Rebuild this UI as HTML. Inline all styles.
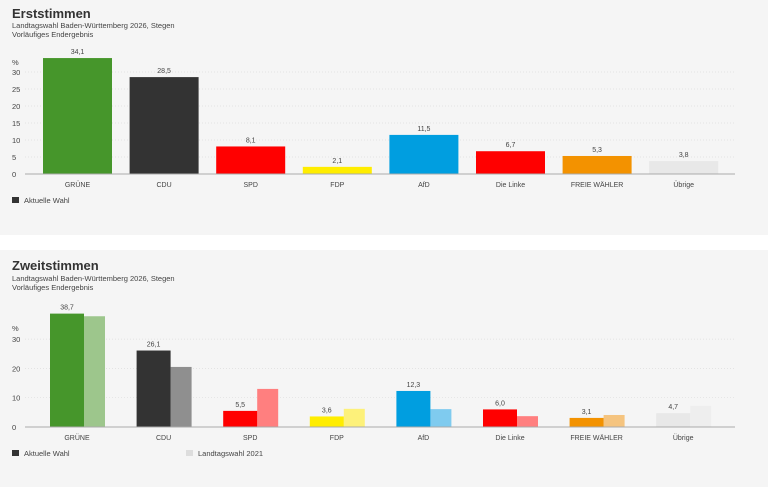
<!DOCTYPE html>
<html><head><meta charset="utf-8"><style>
body{margin:0;width:768px;height:487px;background:#fff;font-family:"Liberation Sans",sans-serif;overflow:hidden}
svg{display:block}
</style></head><body>
<svg width="768" height="487">
<rect x="0" y="0" width="768" height="235" fill="#f5f5f5"/>
<rect x="0" y="250" width="768" height="237" fill="#f5f5f5"/>
<text x="12" y="18" font-size="13" font-weight="bold" fill="#333">Erststimmen</text>
<text x="12" y="28" font-size="7.5" fill="#444">Landtagswahl Baden-Württemberg 2026, Stegen</text>
<text x="12" y="37" font-size="7.5" fill="#444">Vorläufiges Endergebnis</text>
<text x="12" y="270" font-size="13" font-weight="bold" fill="#333">Zweitstimmen</text>
<text x="12" y="281" font-size="7.5" fill="#444">Landtagswahl Baden-Württemberg 2026, Stegen</text>
<text x="12" y="290" font-size="7.5" fill="#444">Vorläufiges Endergebnis</text>
<g id="c1"></g><g id="c2"></g>
<rect x="12" y="197" width="7" height="6" fill="#333"/>
<text x="24" y="203" font-size="7.5" fill="#444">Aktuelle Wahl</text>
<rect x="12" y="450" width="7" height="6" fill="#333"/>
<text x="24" y="456" font-size="7.5" fill="#444">Aktuelle Wahl</text>
<rect x="186" y="450" width="7" height="6" fill="#ddd"/>
<text x="198" y="456" font-size="7.5" fill="#444">Landtagswahl 2021</text>
</svg>
<script>
const categories=["GRÜNE","CDU","SPD","FDP","AfD","Die Linke","FREIE WÄHLER","Übrige"];
const erst=[34.1,28.5,8.1,2.1,11.5,6.7,5.3,3.8];
const zweit=[38.7,26.1,5.5,3.6,12.3,6.0,3.1,4.7];
const zweit2021=[37.8,20.5,13.0,6.2,6.1,3.7,4.1,7.2];
const ticks1=[0,5,10,15,20,25,30];
const ticks2=[0,10,20,30];
const colors=["#46962b","#333333","#ff0000","#ffed00","#009ee0","#ff0000","#f39200","#e8e8e8"];
const light=["#9dc68c","#8f8f8f","#ff7f7f","#fdf17a","#7fcbef","#ff7f7f","#f5c47f","#eeeeee"];
const NS="http://www.w3.org/2000/svg";
function mk(g,t,a,txt){const e=document.createElementNS(NS,t);for(const k in a)e.setAttribute(k,a[k]);if(txt!=null)e.textContent=txt;g.appendChild(e);return e;}
function fmt(v){return v.toFixed(1).replace('.',',');}
function draw(gid,base,pxPer,ticks,x0,cur,prev,pctY){
 const g=document.getElementById(gid);
 const y=v=>base-v*pxPer;
 const step=86.6;
 ticks.forEach(t=>{
  if(t>0){const l=mk(g,'line',{x1:25,x2:735,y1:y(t),y2:y(t),stroke:'#ddd','stroke-dasharray':'1,2','stroke-width':0.7});
  
  }
  const tx=mk(g,'text',{x:12,y:y(t)+3,'font-size':7.5,fill:'#444'},String(t));
  
  
 });
 const pc=mk(g,'text',{x:12,y:pctY,'font-size':7.5,fill:'#444'},'%');
 
 
 categories.forEach((c,i)=>{
  const bx=x0+i*step;
  const w=prev?34:69;
  if(prev){const r=mk(g,'rect',{x:bx+34,y:y(prev[i]),width:21,height:prev[i]*pxPer,fill:light[i]});
   
   }
  const r=mk(g,'rect',{x:bx,y:y(cur[i]),width:w,height:cur[i]*pxPer,fill:colors[i]});
  
  
  const v=mk(g,'text',{x:bx+w/2,y:y(cur[i])-4,'font-size':7,fill:'#444','text-anchor':'middle'},fmt(cur[i]));
  
  
  const cx=prev?bx+27:bx+w/2;
  const lb=mk(g,'text',{x:cx,y:base+13,'font-size':7,fill:'#444','text-anchor':'middle'},c);
  
  
 });
 const ax=mk(g,'line',{x1:25,x2:735,y1:base,y2:base,stroke:'#aaa','stroke-width':1});
 
 
}
draw('c1',174,3.4,ticks1,43,erst,null,65);
draw('c2',427,2.93,ticks2,50,zweit,zweit2021,331);
</script>
</body></html>
